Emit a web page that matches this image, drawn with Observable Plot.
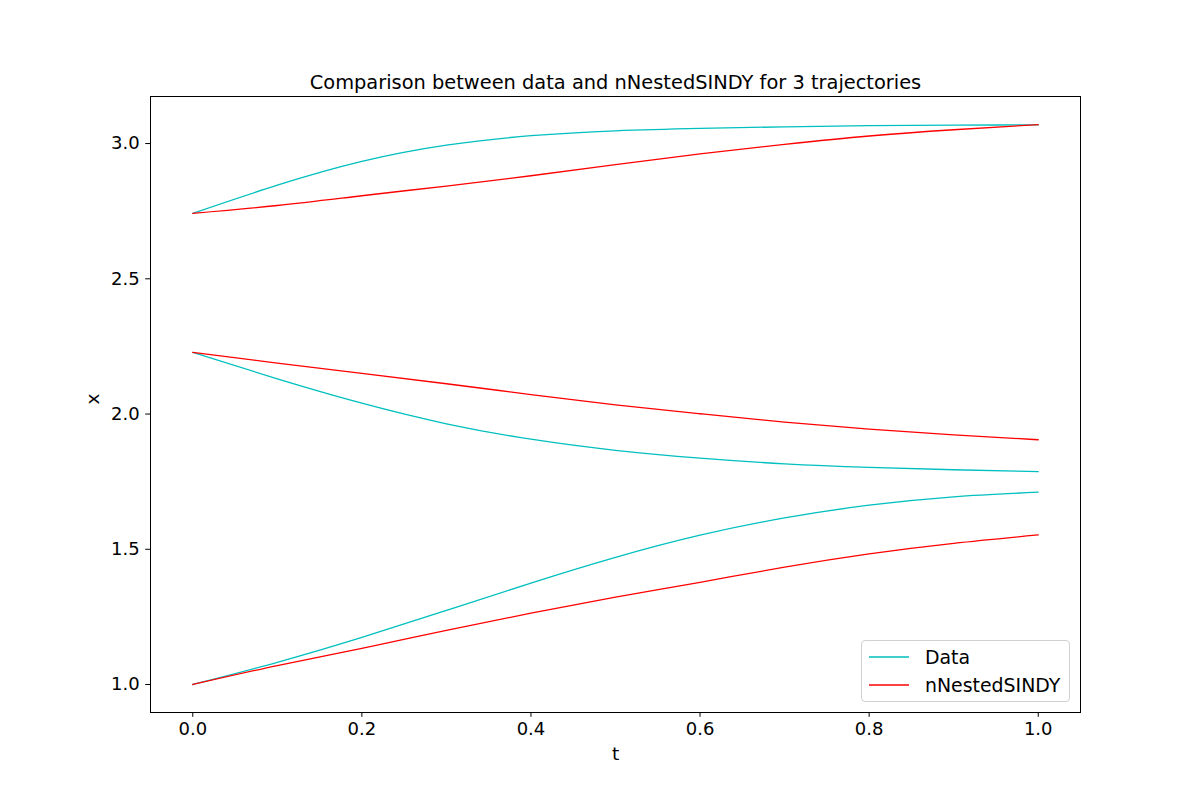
<!DOCTYPE html>
<html>
<head>
<meta charset="utf-8">
<script src="https://cdn.jsdelivr.net/npm/d3@7"></script>
<script src="https://cdn.jsdelivr.net/npm/@observablehq/plot@0.6"></script>
<style>
  body { margin: 0; background: #fff; font-family: "DejaVu Sans", sans-serif; }
  #wrap { position: relative; width: 1200px; height: 800px; }
  #legend { position: absolute; left: 861px; top: 640px; width: 207px; height: 60px;
    border: 1px solid #d0d0d0; border-radius: 4px; background: rgba(255,255,255,0.8);
    font-size: 18.9px; color: #000; }
  .row { position: absolute; left: 7px; height: 24px; display: flex; align-items: center; }
  .row span { margin-left: 16px; line-height: 24px; }
</style>
</head>
<body>
<div id="wrap"></div>
<script>
const tValues = [0, 0.1, 0.2, 0.3, 0.4, 0.5, 0.6, 0.7, 0.8, 0.9, 1.0];

const data1 = [2.742, 2.846, 2.934, 2.994, 3.029, 3.047, 3.056, 3.062, 3.066, 3.068, 3.069];
const model1 = [2.742, 2.771, 2.807, 2.843, 2.881, 2.922, 2.962, 2.997, 3.028, 3.051, 3.070];
const data2 = [2.228, 2.130, 2.040, 1.964, 1.907, 1.866, 1.837, 1.816, 1.803, 1.794, 1.787];
const model2 = [2.228, 2.188, 2.150, 2.112, 2.072, 2.034, 2.001, 1.970, 1.944, 1.923, 1.905];
const data3 = [1.000, 1.082, 1.174, 1.274, 1.375, 1.470, 1.552, 1.616, 1.663, 1.694, 1.711];
const model3 = [1.000, 1.070, 1.134, 1.200, 1.264, 1.323, 1.378, 1.434, 1.483, 1.522, 1.553];

const seriesNames = ["Data", "nNestedSINDY"];
const seriesColors = ["#00bfbf", "#ff0000"];
const xTicks = [0, 0.2, 0.4, 0.6, 0.8, 1.0];
const yTicks = [1.0, 1.5, 2.0, 2.5, 3.0];
const titleText = "Comparison between data and nNestedSINDY for 3 trajectories";

const trajectories = [
  {id: 1, series: "Data", values: data1},
  {id: 1, series: "nNestedSINDY", values: model1},
  {id: 2, series: "Data", values: data2},
  {id: 2, series: "nNestedSINDY", values: model2},
  {id: 3, series: "Data", values: data3},
  {id: 3, series: "nNestedSINDY", values: model3}
];
const rows = trajectories.flatMap(tr => tr.values.map((v, i) => ({
  t: tValues[i], x: v, series: tr.series, key: tr.series + tr.id
})));

const font = "DejaVu Sans, sans-serif";

const chart = Plot.plot({
  width: 1200,
  height: 800,
  marginLeft: 150,
  marginRight: 120,
  marginTop: 96,
  marginBottom: 88,
  style: {fontFamily: font, fontSize: "18px", background: "white", color: "black"},
  x: {domain: [-0.05, 1.05]},
  y: {domain: [0.8965, 3.174]},
  color: {domain: seriesNames, range: seriesColors},
  marks: [
    Plot.line(rows, {x: "t", y: "x", z: "key", stroke: "series", strokeWidth: 1.3, curve: "natural"}),
    Plot.frame({stroke: "black", strokeWidth: 1}),
    Plot.axisX({ticks: xTicks, tickFormat: d3.format(".1f"), tickSize: 4.8, tickPadding: 5,
      fontSize: 18, label: null}),
    Plot.axisY({ticks: yTicks, tickFormat: d3.format(".1f"), tickSize: 4.8, tickPadding: 6,
      fontSize: 18, label: null}),
    Plot.text(["t"], {frameAnchor: "bottom", dy: 42, fontSize: 18.5, lineAnchor: "middle"}),
    Plot.text(["x"], {frameAnchor: "left", dx: -57, rotate: -90, fontSize: 18.5, lineAnchor: "middle"}),
    Plot.text([titleText], {frameAnchor: "top", dy: -14, fontSize: 19.4, lineAnchor: "middle"})
  ]
});

const wrap = document.getElementById("wrap");
wrap.appendChild(chart);

const legend = document.createElement("div");
legend.id = "legend";
seriesNames.forEach((name, i) => {
  const row = document.createElement("div");
  row.className = "row";
  row.style.top = (3.5 + i * 28.7) + "px";
  row.innerHTML = `<svg width="40" height="4"><line x1="0" x2="40" y1="2" y2="2" stroke="${seriesColors[i]}" stroke-width="1.3"/></svg><span>${name}</span>`;
  legend.appendChild(row);
});
wrap.appendChild(legend);
</script>
</body>
</html>
